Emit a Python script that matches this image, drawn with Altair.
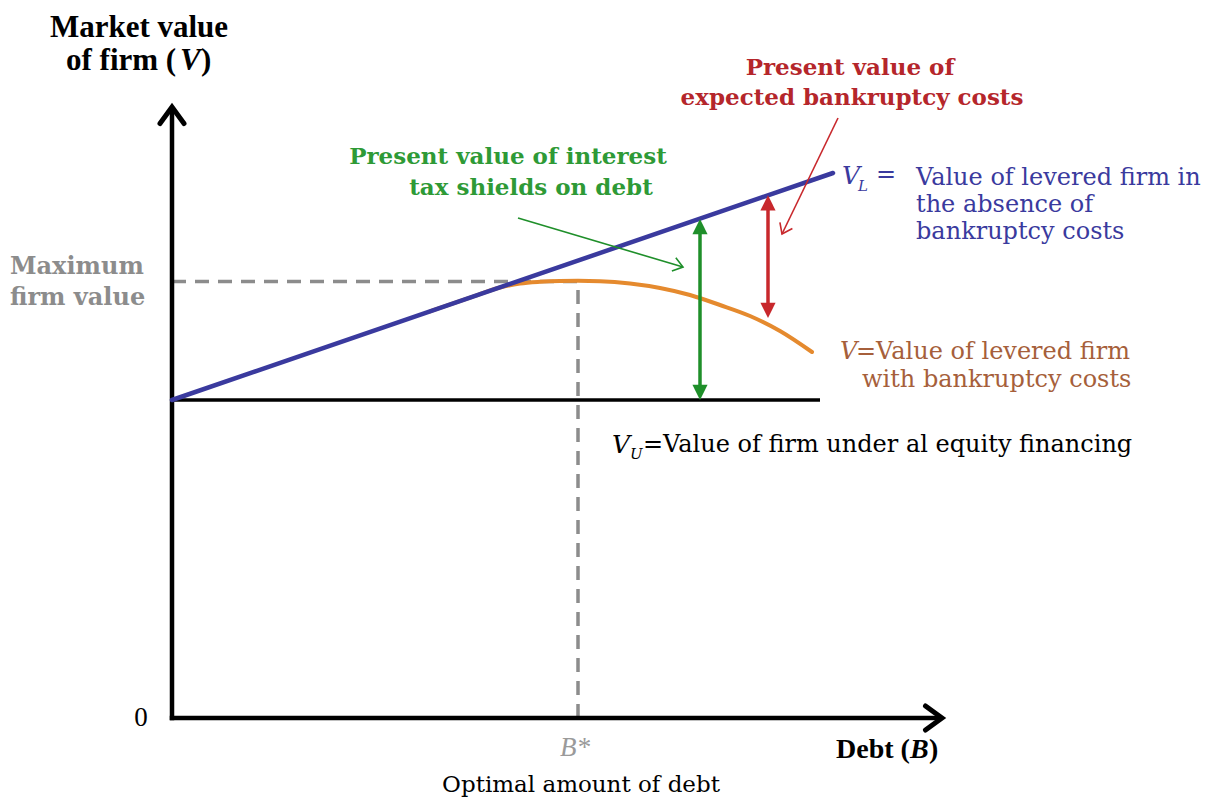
import altair as alt
import pandas as pd

# ---------------- data (chart units: debt on x, firm value on y) ----------------
X_DOMAIN = [-1.64, 10.35]
Y_DOMAIN = [-0.79, 7.10]

axis_x_end = 7.70          # tip of the Debt axis arrow
axis_y_end = 6.11          # tip of the Value axis arrow

vu_value = 3.18            # value of unlevered firm
vu_x_end = 6.48

vl_x = [0.0, 6.61]         # V_L straight line
vl_y = [3.18, 5.45]

v_x = [2.58, 2.98, 3.28, 3.48, 3.68, 3.88, 4.06, 4.28, 4.58, 4.88, 5.18, 5.48, 5.78, 6.08, 6.40]
v_y = [4.066, 4.203, 4.305, 4.345, 4.362, 4.370, 4.372, 4.368, 4.345, 4.300, 4.230, 4.130, 4.020, 3.870, 3.660]

b_star = 4.06
v_max = 4.365

shield_x = 5.28
shield_y = [3.18, 4.99]
bankr_x = 5.96
bankr_y = [4.00, 5.227]

green_ptr = [3.46, 5.00, 5.11, 4.51]   # x, y, x2, y2
red_ptr = [6.66, 6.00, 6.10, 4.84]

# text labels
title_line1 = "Market value"
title_pos1 = (-0.33, 6.90)
title_parts2 = ["of firm (", "V", ")"]
title_pos2 = [(-1.06, 6.575), (0.08, 6.575), (0.29, 6.575)]
max_lines = ["Maximum", "firm value"]
max_pos = [(-1.62, 4.51), (-1.62, 4.20)]
green_lines = ["Present value of interest", "tax shields on debt"]
green_pos = [(3.36, 5.61), (3.59, 5.30)]
red_lines = ["Present value of", "expected bankruptcy costs"]
red_pos = [(6.78, 6.50), (6.80, 6.20)]
blue_lines = ["Value of levered firm in", "the absence of", "bankruptcy costs"]
blue_pos = [(7.44, 5.40), (7.44, 5.13), (7.44, 4.86)]
orange_lines = ["=Value of levered firm", "with bankruptcy costs"]
orange_pos = [(6.84, 3.66), (6.90, 3.38)]
vu_text = "=Value of firm under al equity financing"
debt_parts = ["Debt (", "B", ")"]
debt_pos = [(6.64, -0.32), (7.38, -0.32), (7.57, -0.32)]

C_BLUE = "#3a3a9e"
C_ORANGE = "#e58a2e"
C_OTEXT = "#a65f3b"
C_GREEN = "#1f8f2a"
C_GTEXT = "#2e9a36"
C_RED = "#c8282c"
C_RTEXT = "#b5262b"
C_GREY = "#8c8c8c"

xs = alt.Scale(domain=X_DOMAIN, nice=False, zero=False)
ys = alt.Scale(domain=Y_DOMAIN, nice=False, zero=False)


def X(f="x"):
    return alt.X(f"{f}:Q", scale=xs, axis=None)


def Y(f="y"):
    return alt.Y(f"{f}:Q", scale=ys, axis=None)


def seg(df, color, width, dash=None, cap="butt"):
    kw = dict(color=color, strokeWidth=width, strokeCap=cap)
    if dash:
        kw["strokeDash"] = dash
    return alt.Chart(df).mark_rule(**kw).encode(
        x=X("x"), y=Y("y"), x2="x2:Q", y2="y2:Q")


def texts(lines, pos, font, size, color, weight="normal", align="center", style="normal"):
    df = pd.DataFrame({"t": lines, "x": [p[0] for p in pos], "y": [p[1] for p in pos]})
    return alt.Chart(df).mark_text(font=font, fontSize=size, color=color, fontWeight=weight,
                                   align=align, baseline="middle", fontStyle=style).encode(
        x=X(), y=Y(), text="t:N")


layers = []

# dashed guides for the maximum
layers.append(seg(pd.DataFrame({"x": [0.0, b_star], "y": [v_max, 0.0],
                                "x2": [b_star, b_star], "y2": [v_max, v_max]}),
                  C_GREY, 3.5, dash=[14, 9]))

# axes
layers.append(seg(pd.DataFrame({"x": [0.0, 0.0], "y": [0.0, 0.0],
                                "x2": [axis_x_end - 0.03, 0.0], "y2": [0.0, axis_y_end - 0.03]}),
                  "black", 4.5, cap="square"))

# V_U line
layers.append(seg(pd.DataFrame({"x": [0.0], "y": [vu_value], "x2": [vu_x_end], "y2": [vu_value]}),
                  "black", 3.5))

# V curve (orange) then V_L (blue)
layers.append(alt.Chart(pd.DataFrame({"x": v_x, "y": v_y, "o": list(range(len(v_x)))}))
              .mark_line(color=C_ORANGE, strokeWidth=4, interpolate="monotone", strokeCap="round")
              .encode(x=X(), y=Y(), order="o:Q"))
layers.append(alt.Chart(pd.DataFrame({"x": vl_x, "y": vl_y, "o": [0, 1]}))
              .mark_line(color=C_BLUE, strokeWidth=4.5, strokeCap="round")
              .encode(x=X(), y=Y(), order="o:Q"))

# double arrows shafts
layers.append(seg(pd.DataFrame({"x": [shield_x], "y": [shield_y[0] + 0.08],
                                "x2": [shield_x], "y2": [shield_y[1] - 0.08]}), C_GREEN, 3.5))
layers.append(seg(pd.DataFrame({"x": [bankr_x], "y": [bankr_y[0] + 0.08],
                                "x2": [bankr_x], "y2": [bankr_y[1] - 0.08]}), C_RED, 3.5))

# pointer lines
layers.append(seg(pd.DataFrame({"x": [green_ptr[0]], "y": [green_ptr[1]],
                                "x2": [green_ptr[2]], "y2": [green_ptr[3]]}), C_GREEN, 1.6))
layers.append(seg(pd.DataFrame({"x": [red_ptr[0]], "y": [red_ptr[1]],
                                "x2": [red_ptr[2]], "y2": [red_ptr[3]]}), C_RED, 1.6))

# arrow heads
FILLED = "M0,0 L-0.55,1.1 L0.55,1.1 Z"
OPEN = "M-0.8,1.1 L0,0 L0.8,1.1"
filled_heads = pd.DataFrame({
    "x": [shield_x, shield_x, bankr_x, bankr_x],
    "y": [shield_y[1], shield_y[0], bankr_y[1], bankr_y[0]],
    "a": [0, 180, 0, 180],
    "c": [C_GREEN, C_GREEN, C_RED, C_RED],
})
layers.append(alt.Chart(filled_heads).mark_point(shape=FILLED, filled=True, size=760, opacity=1,
                                                 strokeWidth=0)
              .encode(x=X(), y=Y(), angle=alt.Angle("a:Q", scale=None),
                      color=alt.Color("c:N", scale=None)))

axis_heads = pd.DataFrame({"x": [axis_x_end, 0.0], "y": [0.0, axis_y_end], "a": [90, 0]})
layers.append(alt.Chart(axis_heads).mark_point(shape=OPEN, filled=False, size=900, opacity=1,
                                               strokeWidth=5, color="black", strokeCap="round",
                                               strokeJoin="miter")
              .encode(x=X(), y=Y(), angle=alt.Angle("a:Q", scale=None)))

ptr_heads = pd.DataFrame({"x": [green_ptr[2], red_ptr[2]], "y": [green_ptr[3], red_ptr[3]],
                          "a": [106.5, 205.8], "c": [C_GREEN, C_RED]})
layers.append(alt.Chart(ptr_heads).mark_point(shape=OPEN, filled=False, size=300, opacity=1,
                                              strokeWidth=1.6)
              .encode(x=X(), y=Y(), angle=alt.Angle("a:Q", scale=None),
                      stroke=alt.Stroke("c:N", scale=None)))

# texts
SERIF_T = "Liberation Serif"
SERIF_W = "DejaVu Serif"
layers.append(texts([title_line1], [title_pos1], SERIF_T, 31, "black", weight="bold"))
layers.append(texts([title_parts2[0], title_parts2[2]], [title_pos2[0], title_pos2[2]],
                    SERIF_T, 31, "black", weight="bold", align="left"))
layers.append(texts([title_parts2[1]], [title_pos2[1]], SERIF_T, 31, "black", weight="bold",
                    align="left", style="italic"))
layers.append(texts(max_lines, max_pos, SERIF_W, 24, C_GREY, weight="bold", align="left"))
layers.append(texts(green_lines, green_pos, SERIF_W, 23, C_GTEXT, weight="bold"))
layers.append(texts(red_lines, red_pos, SERIF_W, 23, C_RTEXT, weight="bold"))
layers.append(texts(blue_lines, blue_pos, SERIF_W, 24, C_BLUE, align="left"))
layers.append(texts(["V"], [(6.70, 5.42)], SERIF_W, 25, C_BLUE, align="left", style="italic"))
layers.append(texts(["L"], [(6.86, 5.32)], SERIF_W, 15, C_BLUE, align="left", style="italic"))
layers.append(texts(["="], [(7.04, 5.43)], SERIF_W, 24, C_BLUE, align="left"))
layers.append(texts(["V"], [(6.68, 3.66)], SERIF_W, 24, C_OTEXT, align="left", style="italic"))
layers.append(texts(orange_lines, orange_pos, SERIF_W, 24, C_OTEXT, align="left"))
layers.append(texts(["V"], [(4.40, 2.73)], SERIF_W, 25, "black", align="left", style="italic"))
layers.append(texts(["U"], [(4.58, 2.64)], SERIF_W, 15, "black", align="left", style="italic"))
layers.append(texts([vu_text], [(4.71, 2.73)], SERIF_W, 24, "black", align="left"))
layers.append(texts(["0"], [(-0.31, 0.0)], SERIF_T, 27, "black"))
layers.append(texts(["B*"], [(4.03, -0.30)], SERIF_T, 27, "#9a9a9a", style="italic"))
layers.append(texts([debt_parts[0], debt_parts[2]], [debt_pos[0], debt_pos[2]], SERIF_T, 28,
                    "black", weight="bold", align="left"))
layers.append(texts([debt_parts[1]], [debt_pos[1]], SERIF_T, 28, "black", weight="bold",
                    align="left", style="italic"))
layers.append(texts(["Optimal amount of debt"], [(4.09, -0.67)], SERIF_W, 23, "black"))

chart = alt.layer(*layers).properties(
    width=1199, height=789, padding=0,
    autosize=alt.AutoSizeParams(type="none"),
    background="white",
).configure_view(strokeWidth=0)

chart.save("out.html", embed_options={"renderer": "svg", "actions": False})
